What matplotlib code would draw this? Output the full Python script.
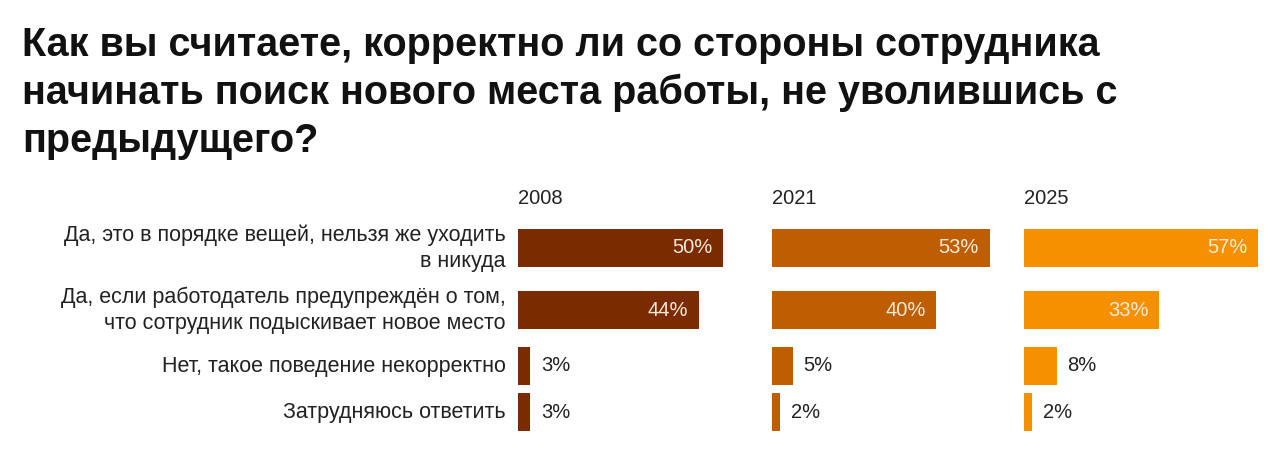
import matplotlib
matplotlib.use("Agg")
import matplotlib.pyplot as plt

title = ("Как вы считаете, корректно ли со стороны сотрудника\n"
         "начинать поиск нового места работы, не уволившись с\n"
         "предыдущего?")

categories = [
    "Да, это в порядке вещей, нельзя же уходить\nв никуда",
    "Да, если работодатель предупреждён о том,\nчто сотрудник подыскивает новое место",
    "Нет, такое поведение некорректно",
    "Затрудняюсь ответить",
]
years = ["2008", "2021", "2025"]
values = {
    "2008": [50, 44, 3, 3],
    "2021": [53, 40, 5, 2],
    "2025": [57, 33, 8, 2],
}
colors = ["#7a2b00", "#bf5e00", "#f59100"]

W, H = 1280, 469
fig = plt.figure(figsize=(W / 100, H / 100), dpi=100)
font = "Liberation Sans"

fig.text(22 / W, 1 - 26 / H, title, ha="left", va="top", fontsize=28.5,
         fontweight="bold", family=font, color="#111111",
         linespacing=1.33)

# row layout in pixels
y_top, y_bot = 222, 440
row_y = [248, 310.5, 366, 412]
bar_h = 38
panel_left = [518, 772, 1024]
panel_w = 234
xmax = 57

for i, yr in enumerate(years):
    ax = fig.add_axes([panel_left[i] / W, 1 - y_bot / H, panel_w / W, (y_bot - y_top) / H])
    ax.set_xlim(0, xmax)
    ax.set_ylim(y_bot, y_top)
    ax.axis("off")
    vals = values[yr]
    ax.barh(row_y, vals, height=bar_h, color=colors[i])
    for y, v in zip(row_y, vals):
        if v > 20:
            ax.text(v - 2.6, y, f"{v}%", ha="right", va="center", fontsize=14.5,
                    family=font, color="#fbeadb")
        else:
            ax.text(v + 2.6, y, f"{v}%", ha="left", va="center", fontsize=14.5,
                    family=font, color="#222222")
    fig.text(panel_left[i] / W, 1 - 198 / H, yr, ha="left", va="center",
             fontsize=14.5, family=font, color="#222222")

for y, c in zip(row_y, categories):
    fig.text(506 / W, 1 - y / H, c, ha="right", va="center", fontsize=15.5,
             family=font, color="#222222", linespacing=1.3)

fig.savefig("out.png", dpi=100)
